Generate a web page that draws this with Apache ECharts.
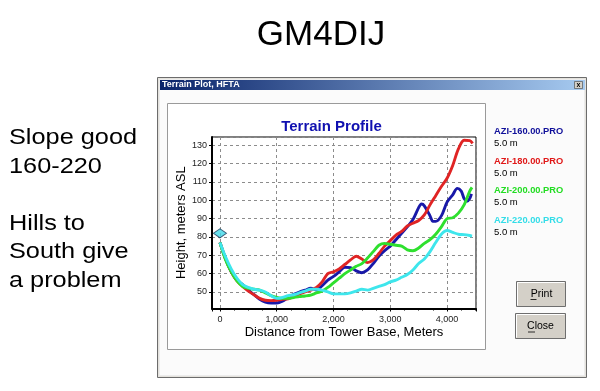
<!DOCTYPE html>
<html>
<head>
<meta charset="utf-8">
<script src="https://cdn.jsdelivr.net/npm/echarts@6/dist/echarts.min.js"></script>
<style>
html,body{margin:0;padding:0;background:#fff;}
#chart{width:600px;height:391px;}
</style>
</head>
<body>
<div id="chart"></div>
<script>
// ---- data ----
const slideTitle = 'GM4DIJ';
const slideNotes = ['Slope good', '160-220', '', 'Hills to', 'South give', 'a problem'];
const windowTitle = 'Terrain Plot, HFTA';
const chartTitle = 'Terrain Profile';
const xAxisName = 'Distance from Tower Base, Meters';
const yAxisName = 'Height, meters ASL';
const seriesNames = ['AZI-160.00.PRO', 'AZI-180.00.PRO', 'AZI-200.00.PRO', 'AZI-220.00.PRO'];
const antennaHeights = ['5.0 m', '5.0 m', '5.0 m', '5.0 m'];
const seriesColors = ['#1818a8', '#e02424', '#2ee02e', '#3ee6ec'];
const legendColors = ['#10109a', '#e01818', '#22dd22', '#33dde8'];
const towerBase = [0, 82];

const dist160 = [0,100,200,300,400,500,600,700,800,900,1000,1100,1200,1300,1400,1500,1600,1700,1800,1900,2000,2100,2200,2300,2400,2500,2600,2700,2800,2900,3000,3100,3200,3300,3400,3500,3550,3600,3700,3750,3800,3900,4000,4100,4180,4250,4300,4350,4400,4430];
const height160 = [77,68,61,56.5,54,51,48.5,46,44.5,44,44,45,47,48.7,50,51,52,51,53.5,56.5,58.5,61,63.5,63.3,61.5,60.5,62,65.5,69.5,72.5,75,78.5,82,85.5,89.5,96,98,97,91.5,88.5,88.5,91.5,99,103,106.5,105,101,99.5,101,103.5];

const dist180 = [0,100,200,300,400,500,600,700,800,900,1000,1100,1200,1300,1400,1500,1600,1700,1800,1900,2000,2100,2200,2300,2400,2500,2600,2700,2800,2900,3000,3100,3200,3300,3400,3500,3600,3700,3800,3900,4000,4100,4200,4300,4400,4450];
const height180 = [77,68,61,56,53,50.5,48.5,46.5,45.5,45.3,45.5,46,46.3,47.5,49,50,51,52.5,55.5,60,61,62.5,65,67.5,69.5,68,66,67.5,71,75,78,81,83,86,87.5,89,92,97.5,102.5,107.5,112,119,128,132.7,132.5,131];

const dist200 = [0,100,200,300,400,500,600,700,800,900,1000,1100,1200,1300,1400,1500,1600,1700,1800,1900,2000,2100,2200,2300,2400,2500,2600,2700,2800,2900,3000,3100,3200,3300,3400,3500,3600,3700,3800,3900,4000,4100,4200,4300,4400,4440];
const height200 = [77,67.5,61,56,53,52,51.5,51,49.5,48,47,46.5,46.5,47,47.5,47.8,48.3,49.5,50.5,52.5,55,57.5,60,62,64,65.5,68.5,72,75.5,76.5,76,75.5,75,73,72.5,74,76.5,78.5,81.5,85.5,90,90.5,93,97.5,105,107];

const dist220 = [0,100,200,300,400,500,600,700,800,900,1000,1100,1200,1300,1400,1500,1600,1700,1800,1900,2000,2100,2200,2300,2400,2500,2600,2700,2800,2900,3000,3100,3200,3300,3400,3500,3600,3700,3800,3900,4000,4100,4200,4300,4400,4440];
const height220 = [77,69,62.5,57.5,54,52.5,51.5,51,50,48,46.5,47,48,48.5,49.5,50.5,51.5,51.5,51,50,49,49,49,49.5,50.5,51.5,51,52,53,54,55.5,56.5,58,59.5,62,65.5,68,72,77,81.5,83.5,82.5,81.5,81.3,80.8,80.5];

const xRange = [-140, 4510];
const yRange = [41, 134.5];

// ---- build ----
const dists = [dist160, dist180, dist200, dist220];
const heights = [height160, height180, height200, height220];
function pairs(xs, ys){ return xs.map((x,i)=>[x, ys[i]]); }
function fmtThousands(v){ return String(v).replace(/\B(?=(\d{3})+(?!\d))/g, ','); }

const FONT = 'Liberation Sans, Arial, sans-serif';

const lineSeries = seriesNames.map((n,i)=>({
  name: n,
  type: 'line',
  data: pairs(dists[i], heights[i]),
  showSymbol: false,
  smooth: 0.3,
  lineStyle: {color: seriesColors[i], width: 2.9},
  itemStyle: {color: seriesColors[i]},
  z: 3 + i,
  silent: true
}));

const chart = echarts.init(document.getElementById('chart'), null, {renderer:'canvas'});

const graphics = [
  // slide title
  {type:'text', x:321, y:35, z:10, style:{text:slideTitle, font:'35px ' + FONT, fill:'#000', align:'center', verticalAlign:'middle'}},
  // slide notes
  {type:'text', x:9, y:124, z:10, scaleX:1.15, style:{text:slideNotes.join('\n'), font:'22px ' + FONT, lineHeight:28.5, fill:'#000', align:'left', verticalAlign:'top'}},
  // window frame
  {type:'rect', z:-20, shape:{x:157.5, y:77.5, width:429, height:300}, style:{fill:'#e4e2dc', stroke:'#6c6c6c', lineWidth:1}},
  {type:'rect', z:-19, shape:{x:159.5, y:79.5, width:425, height:296}, style:{fill:'#fbfbfb', stroke:'#ececec', lineWidth:1}},
  // title bar
  {type:'rect', z:-18, shape:{x:160, y:80, width:425, height:10}, style:{fill:new echarts.graphic.LinearGradient(0,0,1,0,[{offset:0,color:'#0a246a'},{offset:1,color:'#a6caf0'}])}},
  {type:'text', x:162, y:85, z:10, style:{text:windowTitle, font:'bold 9px ' + FONT, fill:'#fff', align:'left', verticalAlign:'middle'}},
  {type:'rect', z:-17, shape:{x:574.5, y:81.5, width:8, height:7}, style:{fill:'#d4d0c8', stroke:'#404040', lineWidth:0.6}},
  {type:'text', x:578.5, y:85, z:10, style:{text:'x', font:'bold 7px ' + FONT, fill:'#000', align:'center', verticalAlign:'middle'}},
  // plot frame
  {type:'rect', z:-16, shape:{x:167.5, y:103.5, width:318, height:246}, style:{fill:'#fff', stroke:'#9a9a9a', lineWidth:1}},
  // buttons
  {type:'rect', z:-16, shape:{x:516.5, y:281.5, width:49, height:25}, style:{fill:'#d4d0c8', stroke:'#6e6e6e', lineWidth:1}},
  {type:'polyline', z:-15, shape:{points:[[517.5,305.5],[517.5,282.5],[564.5,282.5]]}, style:{stroke:'#fff', lineWidth:1, fill:null}},
  {type:'text', x:541.5, y:294, z:10, style:{text:'Print', font:'10.5px ' + FONT, fill:'#000', align:'center', verticalAlign:'middle'}},
  {type:'line', z:10, shape:{x1:530.5, y1:299.5, x2:536.5, y2:299.5}, style:{stroke:'#000', lineWidth:0.8}},
  {type:'rect', z:-16, shape:{x:515.5, y:313.5, width:50, height:25}, style:{fill:'#d4d0c8', stroke:'#6e6e6e', lineWidth:1}},
  {type:'polyline', z:-15, shape:{points:[[516.5,337.5],[516.5,314.5],[564.5,314.5]]}, style:{stroke:'#fff', lineWidth:1, fill:null}},
  {type:'text', x:540.5, y:326.5, z:10, style:{text:'Close', font:'10.5px ' + FONT, fill:'#000', align:'center', verticalAlign:'middle'}},
  {type:'line', z:10, shape:{x1:528, y1:332, x2:535, y2:332}, style:{stroke:'#000', lineWidth:0.8}}
];

const option = {
  animation: false,
  backgroundColor: '#ffffff',
  title: {
    text: chartTitle,
    left: 326.5, top: 114, textAlign: 'center',
    textStyle: {color:'#1010b0', fontSize:15, fontWeight:'bold', fontFamily:FONT}
  },
  legend: {
    orient: 'vertical',
    left: 484, top: 122,
    icon: 'none',
    itemWidth: 0, itemHeight: 0,
    itemGap: 8,
    selectedMode: false,
    formatter: name => '{n|' + name + '}\n{m|' + antennaHeights[seriesNames.indexOf(name)] + '}',
    data: seriesNames.map((n,i)=>({
      name: n,
      textStyle: {
        rich: {
          n: {color: legendColors[i], fontSize: 9.3, fontWeight: 'bold', fontFamily: FONT, lineHeight: 12},
          m: {color: '#000', fontSize: 9.5, fontFamily: FONT, lineHeight: 12}
        }
      }
    }))
  },
  grid: {
    left: 212, top: 137, width: 264, height: 171.5,
    show: true, backgroundColor: '#fff', borderColor: '#000', borderWidth: 1
  },
  xAxis: {
    type: 'value',
    min: xRange[0], max: xRange[1],
    splitNumber: 5,
    name: xAxisName, nameLocation: 'middle', nameGap: 17,
    nameTextStyle: {fontSize: 13, color: '#000', fontFamily: FONT},
    axisLine: {show: true, onZero: false, lineStyle: {color: '#000', width: 2}},
    axisTick: {show: true, inside: false, length: 3, lineStyle: {color: '#000'}},
    minorTick: {show: true, splitNumber: 4, length: 2, lineStyle: {color: '#000'}},
    axisLabel: {
      margin: 7, fontSize: 9, color: '#222', fontFamily: FONT,
      showMinLabel: false, showMaxLabel: false,
      formatter: v => (v >= 0 && v % 1000 === 0) ? fmtThousands(v) : ''
    },
    splitLine: {show: true, lineStyle: {color: '#8c8c8c', width: 1, type: [3,3]}}
  },
  yAxis: {
    type: 'value',
    min: yRange[0], max: yRange[1],
    splitNumber: 9,
    name: yAxisName, nameLocation: 'middle', nameGap: 20,
    nameTextStyle: {fontSize: 13, color: '#000', fontFamily: FONT},
    axisLine: {show: true, onZero: false, lineStyle: {color: '#000', width: 2}},
    axisTick: {show: true, inside: false, length: 3, lineStyle: {color: '#000'}},
    axisLabel: {
      margin: 5, fontSize: 9, color: '#222', fontFamily: FONT,
      showMinLabel: false, showMaxLabel: false,
      formatter: v => (v % 10 === 0) ? String(v) : ''
    },
    splitLine: {show: true, lineStyle: {color: '#8c8c8c', width: 1, type: [3,3]}}
  },
  graphic: graphics,
  series: lineSeries.concat([{
    name: 'Tower base',
    type: 'scatter',
    data: [towerBase],
    symbol: 'diamond',
    symbolSize: [13, 9],
    itemStyle: {color: '#40d8e8', borderColor: '#1a3a5a', borderWidth: 1},
    z: 10,
    silent: true
  }])
};
chart.setOption(option);
</script>
</body>
</html>
